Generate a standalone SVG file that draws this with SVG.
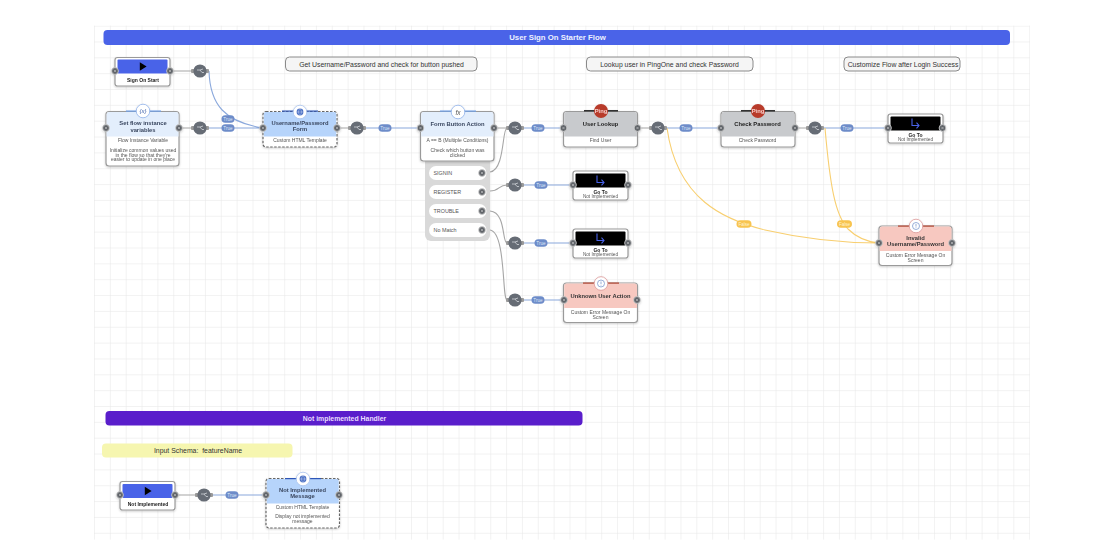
<svg xmlns="http://www.w3.org/2000/svg" width="1120" height="560" viewBox="0 0 1120 560">
<style>
text{font-family:"Liberation Sans",Arial,sans-serif;text-anchor:middle}
.box{fill:#fff;stroke:#9a9a9a;stroke-width:1.2}
.dash{stroke:#666;stroke-dasharray:2.5 1.5}
.sh{filter:url(#s)}
.titleB{font-size:5.800px;font-weight:bold;fill:#3a4760}
.titleK{font-size:5px;font-weight:bold;fill:#222}
.sub{font-size:5px;fill:#555}
.sect{fill:#f5f5f5;stroke:#8a8a8a;stroke-width:1}
.sectT{font-size:6.850px;fill:#333}
.grey{fill:none;stroke:#a6a6a6;stroke-width:1.100}
.blue{fill:none;stroke:#8aa8dc;stroke-width:1.100}
.yel{fill:none;stroke:#f8cf70;stroke-width:1.100}
.lblT{font-size:4.600px;fill:#dfe7f7}
.pill{fill:#fff}
.pillT{font-size:5.400px;fill:#555;text-anchor:start}
.icon{fill:#fff;stroke-width:.8}
</style>
<defs>
<pattern id="grid" x="94" y="25.6" width="15.85" height="15.85" patternUnits="userSpaceOnUse"><path d="M15.85 0H0V15.85" fill="none" stroke="#e6e6e6" stroke-width="1"/></pattern>
<filter id="s" x="-10%" y="-10%" width="120%" height="125%"><feDropShadow dx="0" dy="1" stdDeviation="1" flood-color="#000" flood-opacity=".2"/></filter>
<g id="port"><circle r="3.400" fill="#5f6368" stroke="#d5d5d5" stroke-width=".8"/><path d="M-1.200-1.200 1.200 1.200M1.200-1.200-1.200 1.200" stroke="#ddd" stroke-width=".5"/></g>
<g id="gw"><rect x="-9" y="-2" width="18" height="4" rx="1" fill="#9a9a9a"/><circle r="6.600" fill="#666c75"/><path d="M-3-1 0-1 2 1.500 4 1.500M0-1 3-2" stroke="#cfd3d8" stroke-width=".8" fill="none"/></g>
<rect id="lT" x="-6.500" y="-3.800" width="13" height="7.600" rx="3.800" fill="#6d8cc9"/>
<rect id="lF" x="-7.500" y="-3.800" width="15" height="7.600" rx="3.800" fill="#f8c44f"/>
<path id="play" d="M-3.200-4.200 3.600 0-3.200 4.200Z" fill="#000"/>
<path id="goto" d="M-3-5V2H4M1.500-.8 4 2 1.500 4.800" fill="none" stroke="#4a63e8" stroke-width="1.100"/>
<g id="ping"><rect x="-17" y="-1" width="34" height="1.600" fill="#333"/><circle r="7" fill="#b83a2b"/></g>
<g id="info"><circle r="3.500" fill="none" stroke="#6d8cc9" stroke-width=".7"/><path d="M0-2V.6M0 1.400V2" stroke="#6d8cc9" stroke-width=".7"/></g>
<g id="globe"><circle r="3.400" fill="#4a6fc4"/><path d="M-3.400 0H3.400M0-3.400C-2-1.500-2 1.500 0 3.400 2 1.500 2-1.500 0-3.400" fill="none" stroke="#dfe7f7" stroke-width=".4"/></g>
</defs>
<rect width="1120" height="560" fill="#fff"/>
<rect x="94" y="25.600" width="936" height="514" fill="url(#grid)"/>

<g id="connectors">
<path class="grey" d="M170 71H191M179 128H191M337 128H348M494 128H506M637 128H649M795 128H806M175 495H195"/>
<path class="blue" d="M209 71C210 105 225 122 263 128M209 128H263M366 128H420M524 128H563M524 185H573M524 243H573M524 300H564M667 128H721M824 128H888M213 495H266"/>
<path class="grey" d="M490 172C505 170 502 128 507 128M490 191C500 191 498 185 507 185M490 211C506 212 502 243 507 243M490 230C506 232 502 300 507 300"/>
<path class="yel" d="M667 128C677 200 725 220 765 230 800 238 840 243 879 243M825 128C830 185 835 215 848 229 858 239 868 242 879 243"/>
<g>
<use href="#lT" x="228" y="119"/><text class="lblT" x="228" y="120.600">True</text>
<use href="#lT" x="228" y="128"/><text class="lblT" x="228" y="129.600">True</text>
<use href="#lT" x="385" y="128"/><text class="lblT" x="385" y="129.600">True</text>
<use href="#lT" x="538" y="128"/><text class="lblT" x="538" y="129.600">True</text>
<use href="#lT" x="541" y="185"/><text class="lblT" x="541" y="186.600">True</text>
<use href="#lT" x="541" y="243"/><text class="lblT" x="541" y="244.600">True</text>
<use href="#lT" x="538" y="300"/><text class="lblT" x="538" y="301.600">True</text>
<use href="#lT" x="686" y="128"/><text class="lblT" x="686" y="129.600">True</text>
<use href="#lT" x="847" y="128"/><text class="lblT" x="847" y="129.600">True</text>
<use href="#lT" x="232" y="495"/><text class="lblT" x="232" y="496.600">True</text>
<use href="#lF" x="744" y="224"/><text class="lblT" x="744" y="225.600" style="fill:#fff3d0">False</text>
<use href="#lF" x="844.500" y="224"/><text class="lblT" x="844.500" y="225.600" style="fill:#fff3d0">False</text>
</g>
<use href="#gw" x="200" y="71"/><use href="#gw" x="200" y="128"/><use href="#gw" x="357" y="128"/><use href="#gw" x="515" y="128"/><use href="#gw" x="515" y="185"/><use href="#gw" x="515" y="243"/><use href="#gw" x="515" y="300"/><use href="#gw" x="658" y="128"/><use href="#gw" x="815" y="128"/><use href="#gw" x="204" y="495"/>
</g>

<g id="banner-main"><rect x="103.500" y="30" width="906.500" height="15" rx="4" fill="#4a63e8"/><text x="557.500" y="40" font-size="7.800" font-weight="bold" fill="#eef1ff">User Sign On Starter Flow</text></g>
<g id="banner-handler"><rect x="105.500" y="411" width="477" height="14.500" rx="4" fill="#5a1ecb"/><text x="344.500" y="420.500" font-size="6.900" font-weight="bold" fill="#e8dcff">Not implemented Handler</text></g>
<g id="input-schema"><rect x="102" y="443.500" width="190.500" height="14" rx="4" fill="#f6f6b0"/><text x="198" y="453" font-size="6.900" fill="#333" xml:space="preserve">Input Schema:  featureName</text></g>
<g id="section-1"><rect class="sect" x="285.500" y="57" width="191.500" height="14" rx="4"/><text class="sectT" x="381.500" y="66.500">Get Username/Password and check for button pushed</text></g>
<g id="section-2"><rect class="sect" x="586.500" y="57" width="166.500" height="14" rx="4"/><text class="sectT" x="669.500" y="66.500">Lookup user in PingOne and check Password</text></g>
<g id="section-3"><rect class="sect" x="844" y="57" width="116" height="14" rx="4"/><text class="sectT" x="903" y="66.500">Customize Flow after Login Success</text></g>

<g id="sign-on-start" class="sh"><rect class="box" x="115" y="57.500" width="55" height="28.500" rx="2.500"/><rect x="117.500" y="59.500" width="50" height="14" rx="1" fill="#4a63e8"/><use href="#play" x="143" y="66.500"/><text class="titleK" x="143" y="81.500">Sign On Start</text><use href="#port" x="115" y="71"/><use href="#port" x="170" y="71"/></g>

<g id="set-flow" class="sh"><rect class="box" x="106" y="111.500" width="73" height="54.500" rx="3"/><path d="M106.600 136.500V114.500a2.500 2.500 0 0 1 2.500-2.500H176a2.500 2.500 0 0 1 2.500 2.500V136.500Z" fill="#e3eefc"/><rect x="126" y="110.500" width="35" height="1.200" fill="#6d9ee8"/><circle class="icon" cx="143" cy="111" r="6.800" stroke="#8fb1ea"/><text x="143" y="113" font-size="6" fill="#3a5ea8" font-style="italic">{x}</text><text class="titleB" x="143" y="125">Set flow instance</text><text class="titleB" x="143" y="131.500">variables</text><text class="sub" x="143" y="142">Flow Instance Variable</text><text class="sub" x="143" y="151.500">Initialize common values used</text><text class="sub" x="143" y="156.500">in the flow so that they're</text><text class="sub" x="143" y="161">easier to update in one place</text><use href="#port" x="106" y="128"/><use href="#port" x="179" y="128"/></g>

<g id="username-form" class="sh"><rect class="box dash" x="263" y="111.500" width="74" height="35.500" rx="3"/><path d="M263.800 136.500V114a2 2 0 0 1 2-2H334.200a2 2 0 0 1 2 2V136.500Z" fill="#b6d4fb"/><rect x="282" y="110.500" width="36" height="1.200" fill="#2d56b8"/><circle class="icon" cx="300" cy="112" r="6.800" stroke="#a9c3ee"/><use href="#globe" x="300" y="112"/><text class="titleB" x="300" y="124.500">Username/Password</text><text class="titleB" x="300" y="131">Form</text><text class="sub" x="300" y="142">Custom HTML Template</text><use href="#port" x="263" y="128"/><use href="#port" x="337" y="128"/></g>

<g id="form-button"><rect x="425" y="155" width="65" height="86" rx="6" fill="#d9d9d9"/><rect class="pill" x="429" y="166" width="57.500" height="14" rx="7"/><rect class="pill" x="429" y="185" width="57.500" height="14" rx="7"/><rect class="pill" x="429" y="204" width="57.500" height="14" rx="7"/><rect class="pill" x="429" y="223" width="57.500" height="14" rx="7"/><text class="pillT" x="433.500" y="175">SIGNIN</text><text class="pillT" x="433.500" y="194">REGISTER</text><text class="pillT" x="433.500" y="213">TROUBLE</text><text class="pillT" x="433.500" y="232">No Match</text><use href="#port" x="482" y="173"/><use href="#port" x="482" y="192"/><use href="#port" x="482" y="211"/><use href="#port" x="482" y="230"/>
<g class="sh"><rect class="box" x="420.500" y="111.500" width="73.500" height="49.500" rx="3"/><path d="M421.200 136.500V114.500a2.500 2.500 0 0 1 2.500-2.500H491a2.500 2.500 0 0 1 2.500 2.500V136.500Z" fill="#e3eefc"/><rect x="440" y="110.500" width="36" height="1.200" fill="#6d9ee8"/><circle class="icon" cx="458" cy="112" r="6.800" stroke="#8fb1ea"/><text x="458" y="114.500" font-size="6.500" fill="#555" font-style="italic" font-family="Liberation Serif">fx</text><text class="titleB" x="457.500" y="125.500">Form Button Action</text><text class="sub" x="457.500" y="142">A == B (Multiple Conditions)</text><text class="sub" x="457.500" y="151.500">Check which button was</text><text class="sub" x="457.500" y="156.500">clicked</text><use href="#port" x="420.500" y="128"/><use href="#port" x="494" y="128"/></g></g>

<g id="user-lookup" class="sh"><rect class="box" x="563.500" y="111.500" width="74" height="35.500" rx="3"/><path d="M564.200 136.500V114.500a2.500 2.500 0 0 1 2.500-2.500H634.500a2.500 2.500 0 0 1 2.500 2.500V136.500Z" fill="#c8cacd"/><use href="#ping" x="601" y="111"/><text x="601" y="113" font-size="5.800" font-weight="bold" fill="#f6d0cb">Ping</text><text class="titleB" x="600.500" y="125.500" style="fill:#222">User Lookup</text><text class="sub" x="600.500" y="142">Find User</text><use href="#port" x="563.500" y="128"/><use href="#port" x="637.500" y="128"/></g>

<g id="check-password" class="sh"><rect class="box" x="721" y="111.500" width="74" height="35.500" rx="3"/><path d="M721.700 136.500V114.500a2.500 2.500 0 0 1 2.500-2.500H792a2.500 2.500 0 0 1 2.500 2.500V136.500Z" fill="#c8cacd"/><use href="#ping" x="758" y="111"/><text x="758" y="113" font-size="5.800" font-weight="bold" fill="#f6d0cb">Ping</text><text class="titleB" x="757.500" y="125.500" style="fill:#222">Check Password</text><text class="sub" x="757.500" y="142">Check Password</text><use href="#port" x="721" y="128"/><use href="#port" x="795" y="128"/></g>

<g id="goto-1" class="sh"><rect class="box" x="888" y="114" width="55" height="29" rx="2.500"/><rect x="890.500" y="116.500" width="50" height="14" rx="1" fill="#000"/><use href="#goto" x="915" y="123.500"/><text class="titleK" x="915.500" y="136.500">Go To</text><text class="sub" x="915.500" y="141" style="font-size:4.600px">Not Implemented</text><use href="#port" x="888" y="128"/><use href="#port" x="942.500" y="128"/></g>
<g id="goto-2" class="sh"><rect class="box" x="573" y="171" width="55" height="29" rx="2.500"/><rect x="575.500" y="173.500" width="50" height="14" rx="1" fill="#000"/><use href="#goto" x="600" y="180.500"/><text class="titleK" x="600.500" y="193.500">Go To</text><text class="sub" x="600.500" y="198" style="font-size:4.600px">Not Implemented</text><use href="#port" x="573" y="185"/><use href="#port" x="628" y="185"/></g>
<g id="goto-3" class="sh"><rect class="box" x="573" y="229" width="55" height="29" rx="2.500"/><rect x="575.500" y="231.500" width="50" height="14" rx="1" fill="#000"/><use href="#goto" x="600" y="238.500"/><text class="titleK" x="600.500" y="251.500">Go To</text><text class="sub" x="600.500" y="256" style="font-size:4.600px">Not Implemented</text><use href="#port" x="573" y="243"/><use href="#port" x="628" y="243"/></g>

<g id="unknown-action" class="sh"><rect class="box" x="563.500" y="283" width="74" height="39.500" rx="3"/><path d="M564.200 308V286a2.500 2.500 0 0 1 2.500-2.500H634.500a2.500 2.500 0 0 1 2.500 2.500V308Z" fill="#f7c8c0"/><rect x="583" y="282.500" width="36" height="1.200" fill="#b5452f"/><circle class="icon" cx="601" cy="283.500" r="6.800" stroke="#d99"/><use href="#info" x="601" y="283.500"/><text class="titleB" x="600.500" y="297.500" style="fill:#333">Unknown User Action</text><text class="sub" x="600.500" y="314">Custom Error Message On</text><text class="sub" x="600.500" y="318.500">Screen</text><use href="#port" x="564" y="300"/><use href="#port" x="637" y="300"/></g>

<g id="invalid-credentials" class="sh"><rect class="box" x="879" y="226" width="73" height="39.500" rx="3"/><path d="M879.700 251V229a2.500 2.500 0 0 1 2.500-2.500H949a2.500 2.500 0 0 1 2.500 2.500V251Z" fill="#f7c8c0"/><rect x="898" y="225.500" width="36" height="1.200" fill="#b5452f"/><circle class="icon" cx="916" cy="226" r="6.800" stroke="#d99"/><use href="#info" x="916" y="226"/><text class="titleB" x="915.500" y="239.500" style="fill:#333">Invalid</text><text class="titleB" x="915.500" y="245.500" style="fill:#333">Username/Password</text><text class="sub" x="915.500" y="256.500">Custom Error Message On</text><text class="sub" x="915.500" y="261.500">Screen</text><use href="#port" x="879" y="243"/><use href="#port" x="952" y="243"/></g>

<g id="not-implemented" class="sh"><rect class="box" x="120" y="481.500" width="55" height="28.500" rx="2.500"/><rect x="122.500" y="484" width="50" height="14" rx="1" fill="#4a63e8"/><use href="#play" x="148" y="491"/><text class="titleK" x="148" y="505.500">Not Implemented</text><use href="#port" x="120" y="495"/><use href="#port" x="175" y="495"/></g>

<g id="not-implemented-message" class="sh"><rect class="box dash" x="266" y="478.500" width="73.500" height="49.500" rx="3"/><path d="M266.800 503.500V481a2 2 0 0 1 2-2H336.700a2 2 0 0 1 2 2V503.500Z" fill="#b6d4fb"/><rect x="285" y="478" width="36" height="1.200" fill="#2d56b8"/><circle class="icon" cx="303" cy="479" r="6.800" stroke="#a9c3ee"/><use href="#globe" x="303" y="479"/><text class="titleB" x="302.500" y="492">Not Implemented</text><text class="titleB" x="302.500" y="498">Message</text><text class="sub" x="302.500" y="508.500">Custom HTML Template</text><text class="sub" x="302.500" y="518">Display not implemented</text><text class="sub" x="302.500" y="523">message</text><use href="#port" x="266" y="495"/><use href="#port" x="339" y="495"/></g>
</svg>
